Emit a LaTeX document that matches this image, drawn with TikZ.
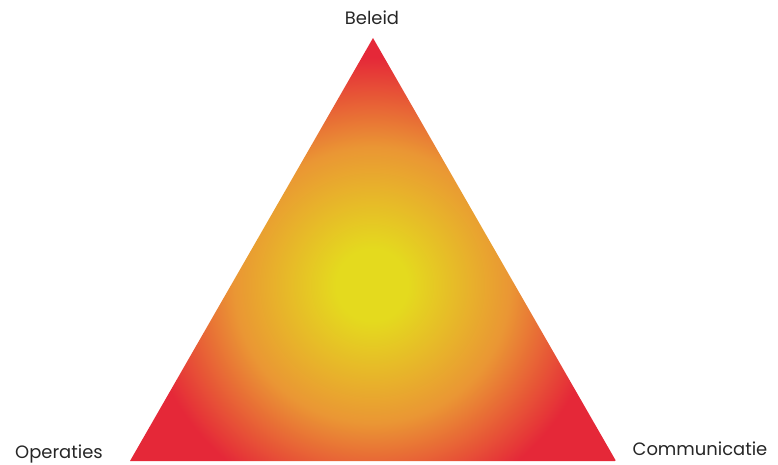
\documentclass[tikz,border=0pt]{standalone}
\usepackage{fontspec}
\setmainfont{Poppins}[Ligatures={NoCommon}]
\definecolor{cY}{RGB}{228,218,30}
\definecolor{cO}{RGB}{234,150,52}
\definecolor{cR}{RGB}{229,40,56}
\pgfdeclareradialshading{trishade}{\pgfpoint{0bp}{0bp}}{color(0bp)=(cY); color(3bp)=(cY); color(11.5bp)=(cO); color(19bp)=(cR); color(50bp)=(cR)}
\tikzset{lbl/.style={font=\fontsize{18}{20}\selectfont, text=black!85, inner sep=0pt}}
\begin{document}
\begin{tikzpicture}[x=1bp,y=-1bp]
\useasboundingbox (0,0) rectangle (778,465);
\coordinate (A) at (373,38);
\coordinate (B) at (130,461);
\coordinate (C) at (616,461);
\coordinate (M) at (372,285);
\begin{scope}
\clip (A) -- (B) -- (C) -- cycle;
\shade[shading=trishade] (M) circle (300);
\end{scope}
\node[lbl] (beleid) at (372,18) {Beleid};
\node[lbl] (oper) at (59,454) {Operaties};
\node[lbl] (comm) at (700,449) {Communicatie};
\end{tikzpicture}
\end{document}
